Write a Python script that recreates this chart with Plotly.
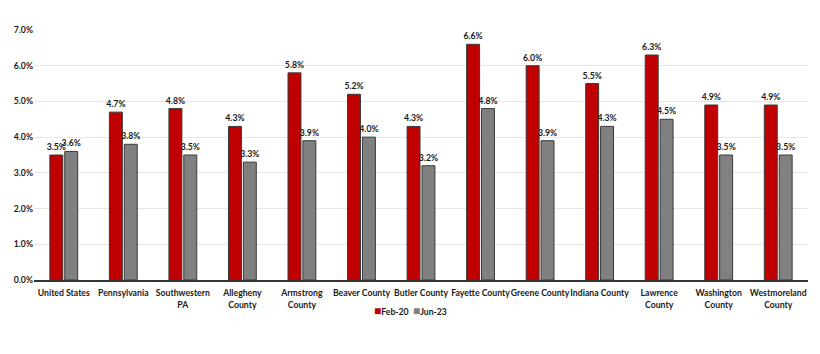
import plotly.graph_objects as go

categories = ["United States", "Pennsylvania", "Southwestern<br>PA", "Allegheny<br>County",
              "Armstrong<br>County", "Beaver County", "Butler County", "Fayette County",
              "Greene County", "Indiana County", "Lawrence<br>County", "Washington<br>County",
              "Westmoreland<br>County"]
feb20 = [3.5, 4.7, 4.8, 4.3, 5.8, 5.2, 4.3, 6.6, 6.0, 5.5, 6.3, 4.9, 4.9]
jun23 = [3.6, 3.8, 3.5, 3.3, 3.9, 4.0, 3.2, 4.8, 3.9, 4.3, 4.5, 3.5, 3.5]
y_ticks = [0, 1, 2, 3, 4, 5, 6, 7]
series_names = ["Feb-20", "Jun-23"]
series_colors = ["#C00000", "#808080"]

font_family = "Lato"
txt_color = "#1a1a1a"
lab_font = dict(family=font_family, size=8.7, color=txt_color, weight=700)

fig = go.Figure()
for name, vals, col in zip(series_names, [feb20, jun23], series_colors):
    fig.add_trace(go.Bar(x=categories, y=vals, name=name,
                         marker=dict(color=col, line=dict(color="#3a3a3a", width=1)),
                         text=[f"{v:.1f}%" for v in vals], textposition="outside",
                         textfont=lab_font, constraintext="none", cliponaxis=False,
                         showlegend=False))

# compact legend like the reference: swatch glyph directly before each name
legend_text = "&nbsp;&nbsp;".join(
    f"<span style='color:{c};font-size:12px'>■</span>{n}"
    for n, c in zip(series_names, series_colors))
fig.add_annotation(text=legend_text, xref="paper", yref="paper", x=0.486, y=-0.12,
                   xanchor="center", yanchor="middle", showarrow=False, font=lab_font)

fig.update_layout(
    width=820, height=354,
    margin=dict(l=34, r=12, t=30, b=74),
    paper_bgcolor="white", plot_bgcolor="white",
    barmode="group", bargap=0.5, bargroupgap=0.13,
    font=dict(family=font_family, size=8.7, color=txt_color),
    xaxis=dict(showgrid=False, showline=True, linecolor="#333333", linewidth=1.5,
               ticks="", tickfont=lab_font, tickangle=0, automargin=False,
               ticklabelstandoff=4),
    yaxis=dict(range=[0, 7], tickvals=y_ticks, ticktext=[f"{v:.1f}%" for v in y_ticks],
               showgrid=True, gridcolor="#e6e6e6", gridwidth=1, zeroline=False,
               ticks="", tickfont=lab_font, automargin=False),
)

fig.write_html("out.html")
